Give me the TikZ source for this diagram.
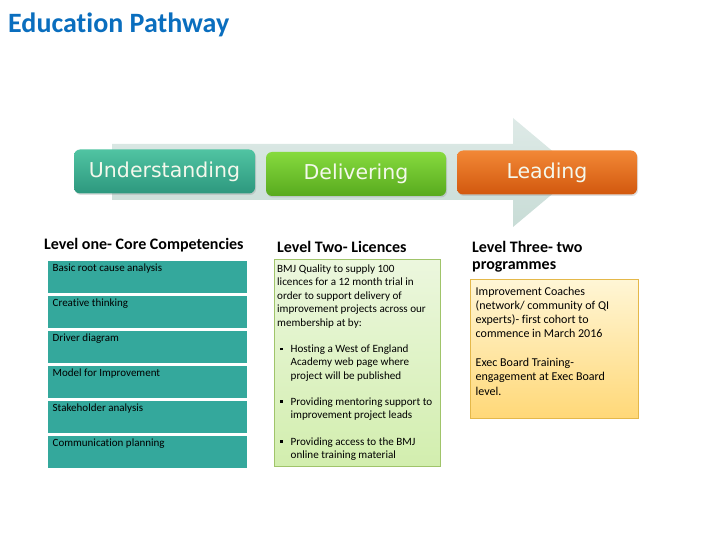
\documentclass[tikz,border=0pt]{standalone}
\usepackage{fontspec}
\setmainfont{Carlito}[Ligatures=CommonOff]
\newfontfamily\arrowfont{DejaVu Sans}
\usetikzlibrary{shadows}
\definecolor{titleblue}{RGB}{10,110,190}
\definecolor{tealbox}{RGB}{52,168,156}
\definecolor{arrowtop}{RGB}{222,234,231}
\definecolor{arrowbot}{RGB}{200,220,214}
\definecolor{uTop}{RGB}{80,195,162}
\definecolor{uBot}{RGB}{45,152,126}
\definecolor{dTop}{RGB}{134,218,62}
\definecolor{dBot}{RGB}{88,170,30}
\definecolor{lTop}{RGB}{242,136,54}
\definecolor{lBot}{RGB}{210,88,14}
\definecolor{gTop}{RGB}{236,247,222}
\definecolor{gBot}{RGB}{210,238,174}
\definecolor{gEdge}{RGB}{160,196,106}
\definecolor{yTop}{RGB}{255,246,214}
\definecolor{yBot}{RGB}{255,216,120}
\definecolor{yEdge}{RGB}{228,184,74}
\definecolor{stagetext}{RGB}{244,248,236}
\tikzset{
  stagebox/.style={rounded corners=6pt, minimum height=44pt, inner sep=0pt,
    text=stagetext, font=\arrowfont\fontsize{20.5}{22}\selectfont,
    drop shadow={opacity=0.25, shadow xshift=1pt, shadow yshift=-1.5pt}},
  compbox/.style={fill=tealbox, minimum width=199pt, minimum height=32pt,
    inner sep=0pt, anchor=north west},
  comptext/.style={anchor=base west, inner sep=0pt, font=\fontsize{11}{12}\selectfont},
  heading/.style={anchor=base west, inner sep=0pt, font=\bfseries\fontsize{16}{16.5}\selectfont, align=left},
  bodytext/.style={anchor=base west, inner sep=0pt, align=left},
  bul/.style={anchor=base west, inner sep=0pt}
}
\newcommand{\sqbul}{\rule[2.5pt]{2.4pt}{2.4pt}}
\begin{document}
\begin{tikzpicture}[x=1pt,y=-1pt]
\useasboundingbox (0,0) rectangle (720,540);
% title
\node[anchor=base west, inner sep=0pt, text=titleblue,
  font=\bfseries\fontsize{28}{30}\selectfont] (title) at (8,33) {Education Pathway};
% big arrow
\shade[top color=arrowtop, bottom color=arrowbot]
  (112,144) -- (513,144) -- (513,118) -- (578,172.5) -- (513,227) -- (513,200) -- (112,200) -- cycle;
% stage boxes
\node[stagebox, minimum width=181pt, top color=uTop, bottom color=uBot] (und) at (164.5,171.5) {Understanding};
\node[stagebox, minimum width=180pt, top color=dTop, bottom color=dBot] (del) at (356,174) {Delivering};
\node[stagebox, minimum width=180pt, top color=lTop, bottom color=lBot] (lea) at (547,172.5) {Leading};
% level one
\node[heading] (h1) at (44,249.5) {Level one- Core Competencies};
\node[compbox] (c1) at (48,261) {};
\node[compbox] (c2) at (48,296) {};
\node[compbox] (c3) at (48,331) {};
\node[compbox] (c4) at (48,366) {};
\node[compbox] (c5) at (48,401) {};
\node[compbox] (c6) at (48,436) {};
\node[comptext] (t1) at (52.5,271) {Basic root cause analysis};
\node[comptext] (t2) at (52.5,306) {Creative thinking};
\node[comptext] (t3) at (52.5,341) {Driver diagram};
\node[comptext] (t4) at (52.5,376) {Model for Improvement};
\node[comptext] (t5) at (52.5,411) {Stakeholder analysis};
\node[comptext] (t6) at (52.5,446) {Communication planning};
% level two
\node[heading] (h2) at (277,252.5) {Level Two- Licences};
\shade[top color=gTop, bottom color=gBot, draw=gEdge, line width=0.8pt] (274,259) rectangle (440,466);
\begin{scope}[font=\fontsize{11.1}{13.4}\selectfont]
% multi-line nodes: anchor at the baseline of the last line
\node[bodytext] (p1) at (277,326) {BMJ Quality to supply 100\\licences for a 12 month trial in\\order to support delivery of\\improvement projects across our\\membership at by:};
\node[bul] (b1) at (280,352.5) {\sqbul};
\node[bodytext] (q1) at (290.5,379.3) {Hosting a West of England\\Academy web page where\\project will be published};
\node[bul] (b2) at (280,405) {\sqbul};
\node[bodytext] (q2) at (290.5,418.4) {Providing mentoring support to\\improvement project leads};
\node[bul] (b3) at (280,445) {\sqbul};
\node[bodytext] (q3) at (290.5,458.4) {Providing access to the BMJ\\online training material};
\end{scope}
% level three
\node[heading, font=\bfseries\fontsize{16}{17}\selectfont] (h3) at (472,269.5) {Level Three- two\\programmes};
\shade[top color=yTop, bottom color=yBot, draw=yEdge, line width=0.8pt] (470,279) rectangle (638,418);
\begin{scope}[font=\fontsize{12}{14.3}\selectfont]
\node[bodytext] (r1) at (475.5,337.9) {Improvement Coaches\\(network/ community of QI\\experts)- first cohort to\\commence in March 2016};
\node[bodytext] (r2) at (475.5,395.1) {Exec Board Training-\\engagement at Exec Board\\level.};
\end{scope}
\end{tikzpicture}
\end{document}
